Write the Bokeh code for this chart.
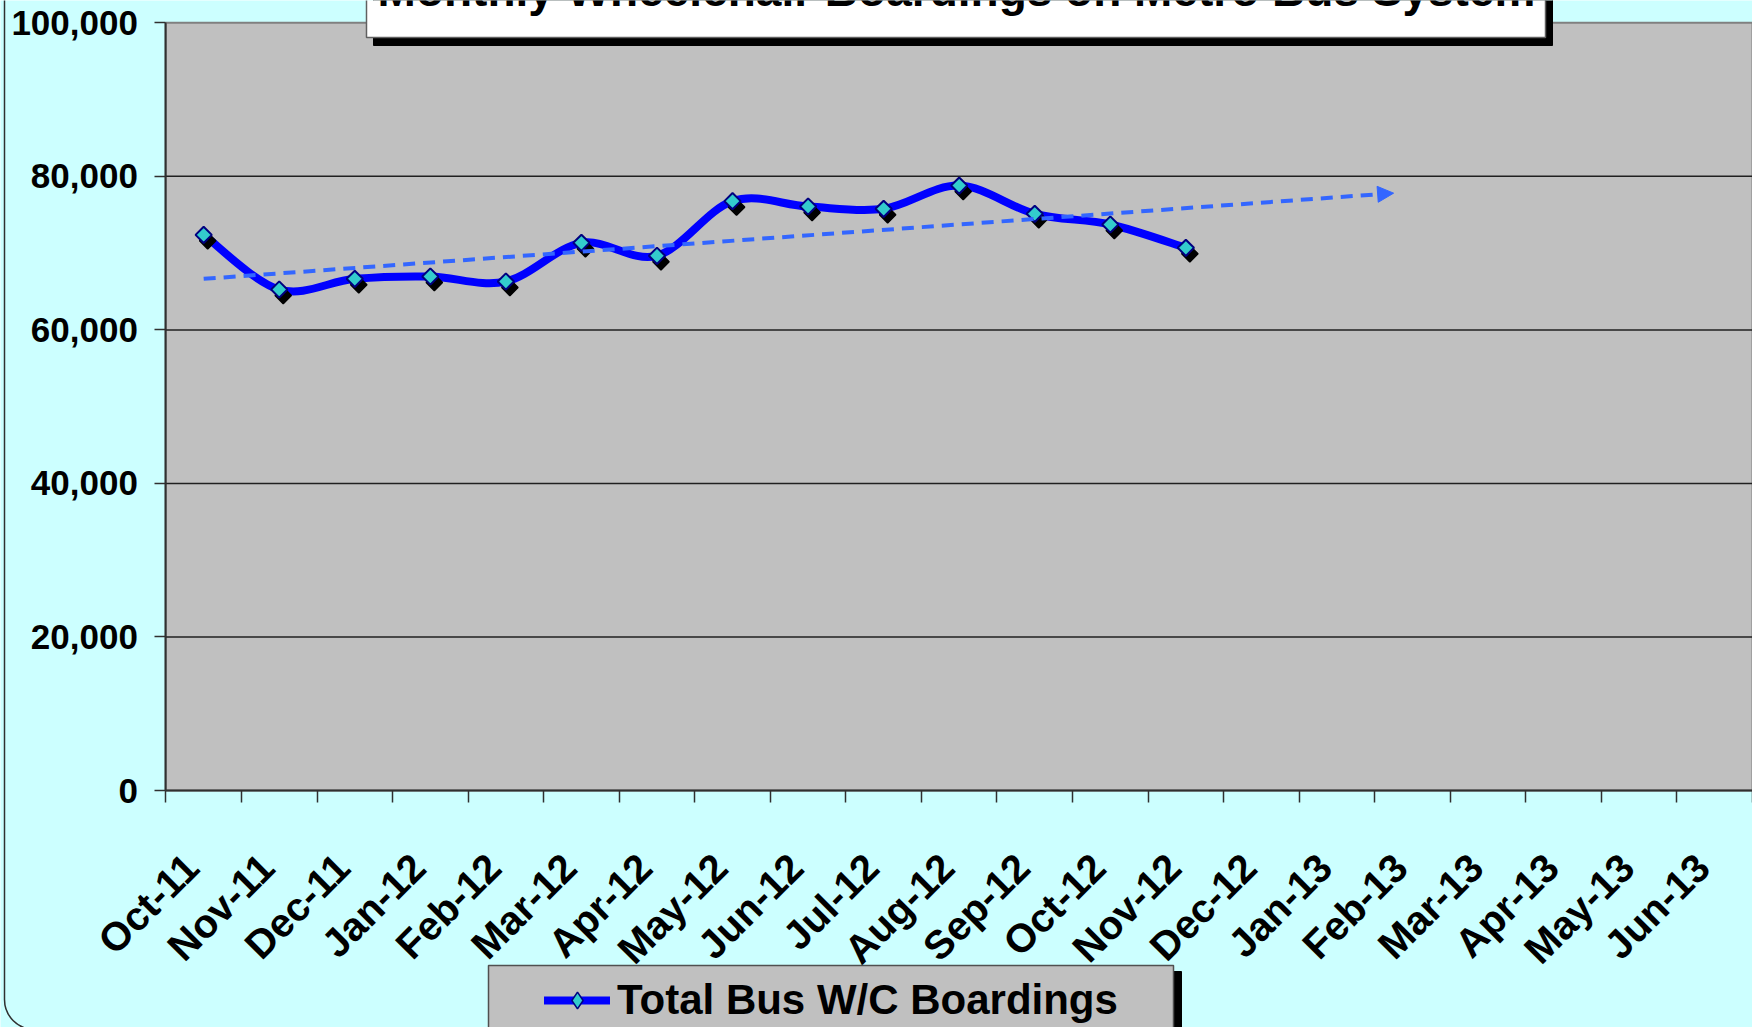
import math
import numpy as np
from bokeh.plotting import figure
from bokeh.models import (Range1d, FixedTicker, NumeralTickFormatter, BoxAnnotation, Label,
                          Arrow, NormalHead, Legend, LegendItem, ColumnDataSource,
                          CustomJSTickFormatter)
from bokeh.embed import file_html
from bokeh.resources import INLINE

# ---------------- data ----------------
months = ["Oct-11", "Nov-11", "Dec-11", "Jan-12", "Feb-12", "Mar-12", "Apr-12", "May-12",
          "Jun-12", "Jul-12", "Aug-12", "Sep-12", "Oct-12", "Nov-12", "Dec-12", "Jan-13",
          "Feb-13", "Mar-13", "Apr-13", "May-13", "Jun-13"]
boardings = [72380, 65260, 66650, 66950, 66300, 71340, 69650, 76770, 76070, 75770,
             78800, 75120, 73730, 70690]
trend_values = [66650, 77810]          # linear trend read at first point and at arrow tip
trend_forecast_periods = 2.75
y_ticks = [0, 20000, 40000, 60000, 80000, 100000]
title_text = "Monthly Wheelchair Boardings on Metro Bus System"
legend_label = "Total Bus W/C Boardings"

# ---------------- layout (pixels) ----------------
W, H = 1752, 1027
FL, FT, FB, FR = 165.4, 22.3, 790.0, 1752.0     # plot-area edges
n_cat = len(months)
Y_MAX = y_ticks[-1]
px_per_cat = (FR - FL) / n_cat
px_per_val = (FB - FT) / Y_MAX

def dx(px):
    return (px - FL) / px_per_cat

def dy(py):
    return (FB - py) / px_per_val

FONT = "Liberation Sans"

p = figure(width=W, height=H, x_range=Range1d(dx(0), dx(W)), y_range=Range1d(dy(H), dy(0)),
           output_backend="svg", toolbar_location=None, min_border=0,
           background_fill_color="#CCFFFF", border_fill_color="#CCFFFF",
           outline_line_color=None)
p.title = None
p.xgrid.visible = False
p.ygrid.visible = False

# plot area
p.add_layout(BoxAnnotation(left=0, right=n_cat, bottom=0, top=Y_MAX, level="image",
                           fill_color="#C0C0C0", fill_alpha=1, line_color="#808080",
                           line_alpha=1, line_width=2))
# horizontal gridlines
gl = y_ticks[1:-1]
p.segment(x0=[0] * len(gl), y0=gl, x1=[n_cat] * len(gl), y1=gl,
          line_color="#202020", line_width=1.5, level="underlay")

# y axis
yax = p.yaxis[0]
yax.fixed_location = 0
yax.bounds = (0, Y_MAX)
yax.ticker = FixedTicker(ticks=y_ticks)
yax.formatter = NumeralTickFormatter(format="0,0")
yax.major_label_text_font = FONT
yax.major_label_text_font_style = "bold"
yax.major_label_text_font_size = "35px"
yax.major_label_text_color = "black"
yax.major_label_standoff = 17
yax.major_tick_out = 11
yax.major_tick_in = 0
yax.major_tick_line_color = "#303030"
yax.major_tick_line_width = 1.5
yax.minor_tick_line_color = None
yax.axis_line_color = "#303030"
yax.axis_line_width = 2

# x axis (tick marks between categories, labels at categories)
LABEL_POS = 0.34
xax = p.xaxis[0]
xax.fixed_location = 0
xax.bounds = (0, n_cat)
xax.ticker = FixedTicker(ticks=[i + LABEL_POS for i in range(n_cat)],
                         minor_ticks=list(range(n_cat + 1)))
xax.formatter = CustomJSTickFormatter(args=dict(months=months), code="""
    const i = Math.floor(tick);
    return (i >= 0 && i < months.length) ? months[i] : "";
""")
xax.major_label_orientation = math.pi / 4
xax.major_label_text_font = FONT
xax.major_label_text_font_style = "bold"
xax.major_label_text_font_size = "40px"
xax.major_label_text_color = "black"
xax.major_label_standoff = 58
xax.major_tick_line_color = None
xax.major_tick_out = 0
xax.major_tick_in = 0
xax.minor_tick_out = 12
xax.minor_tick_in = 0
xax.minor_tick_line_color = "#303030"
xax.minor_tick_line_width = 1.5
xax.axis_line_color = "#303030"
xax.axis_line_width = 2

# ---------------- series ----------------
xs = np.arange(len(boardings)) + 0.5
ys = np.array(boardings, dtype=float)
qx = np.concatenate([[xs[0]], xs, [xs[-1]]])
qy = np.concatenate([[ys[0]], ys, [ys[-1]]])
k = np.arange(len(xs) - 1)
seg = ColumnDataSource(dict(
    x0=qx[k + 1], y0=qy[k + 1], x1=qx[k + 2], y1=qy[k + 2],
    cx0=qx[k + 1] + (qx[k + 2] - qx[k]) / 6.0, cy0=qy[k + 1] + (qy[k + 2] - qy[k]) / 6.0,
    cx1=qx[k + 2] - (qx[k + 3] - qx[k + 1]) / 6.0, cy1=qy[k + 2] - (qy[k + 3] - qy[k + 1]) / 6.0,
))

line_r = p.bezier("x0", "y0", "x1", "y1", "cx0", "cy0", "cx1", "cy1", source=seg,
                  line_color="#0000FF", line_width=8, line_cap="round")

# trend line with arrow
p.add_layout(Arrow(x_start=xs[0], y_start=trend_values[0],
                   x_end=xs[-1] + trend_forecast_periods, y_end=trend_values[1],
                   line_color="#3366FF", line_width=4, line_dash="12 8", level="glyph",
                   end=NormalHead(size=16, fill_color="#3366FF", line_color="#3366FF",
                                  line_width=1)))

SH_DX, SH_DY = 4, 6
pts = ColumnDataSource(dict(x=xs, y=ys,
                            sx=xs + SH_DX / px_per_cat, sy=ys - SH_DY / px_per_val))
p.scatter("sx", "sy", source=pts, marker="square", angle=math.pi / 4, size=11.5,
          fill_color="black", line_color="black", line_width=1.5)
# diamond renderer (used for the legend swatch; sits under the point markers)
legend_mark = p.scatter("x", "y", source=pts, marker="diamond", size=15,
                        fill_color="#33CCCC", line_color="#000080", line_width=1.5)
p.scatter("x", "y", source=pts, marker="square", angle=math.pi / 4, size=11.5,
          fill_color="#33CCCC", line_color="#000080", line_width=2)

# ---------------- title box ----------------
SHX, SHY = 7, 8
p.add_layout(BoxAnnotation(left=dx(366 + SHX), right=dx(1545 + SHX), top=dy(-200), bottom=dy(37 + SHY),
                           fill_color="black", fill_alpha=1, line_color="black", line_alpha=1))
p.add_layout(BoxAnnotation(left=dx(366), right=dx(1545), top=dy(-200), bottom=dy(37),
                           fill_color="white", fill_alpha=1, line_color="#606060", line_alpha=1,
                           line_width=1.5))
p.add_layout(Label(x=dx(956), y=dy(-10.5), text=title_text, text_align="center",
                   text_baseline="alphabetic", text_font=FONT, text_font_style="bold",
                   text_font_size="46px", text_color="black"))

# ---------------- legend ----------------
p.add_layout(BoxAnnotation(left=dx(488 + 8), right=dx(1173 + 8), top=dy(965 + 6), bottom=dy(1300),
                           fill_color="black", fill_alpha=1, line_color="black", line_alpha=1))
p.add_layout(BoxAnnotation(left=dx(488), right=dx(1173), top=dy(965), bottom=dy(1300),
                           fill_color="#C0C0C0", fill_alpha=1, line_color="#505050", line_alpha=1,
                           line_width=1.5))
legend = Legend(items=[LegendItem(label=legend_label, renderers=[line_r, legend_mark])],
                location=(544, H - 970 - 60), padding=0, margin=0, spacing=0,
                glyph_width=66, glyph_height=42, label_height=60, label_standoff=7,
                label_text_font=FONT, label_text_font_style="bold",
                label_text_font_size="42px", label_text_color="black",
                background_fill_alpha=0, border_line_color=None)
p.add_layout(legend)

# chart area border (rounded corner at bottom-left)
p.add_layout(BoxAnnotation(left=dx(4), right=dx(W + 200), top=dy(-200), bottom=dy(H + 2),
                           border_radius=30, fill_alpha=0, line_color="#303030", line_alpha=1,
                           line_width=1.5))

open("out.html", "w").write(file_html(p, INLINE))
